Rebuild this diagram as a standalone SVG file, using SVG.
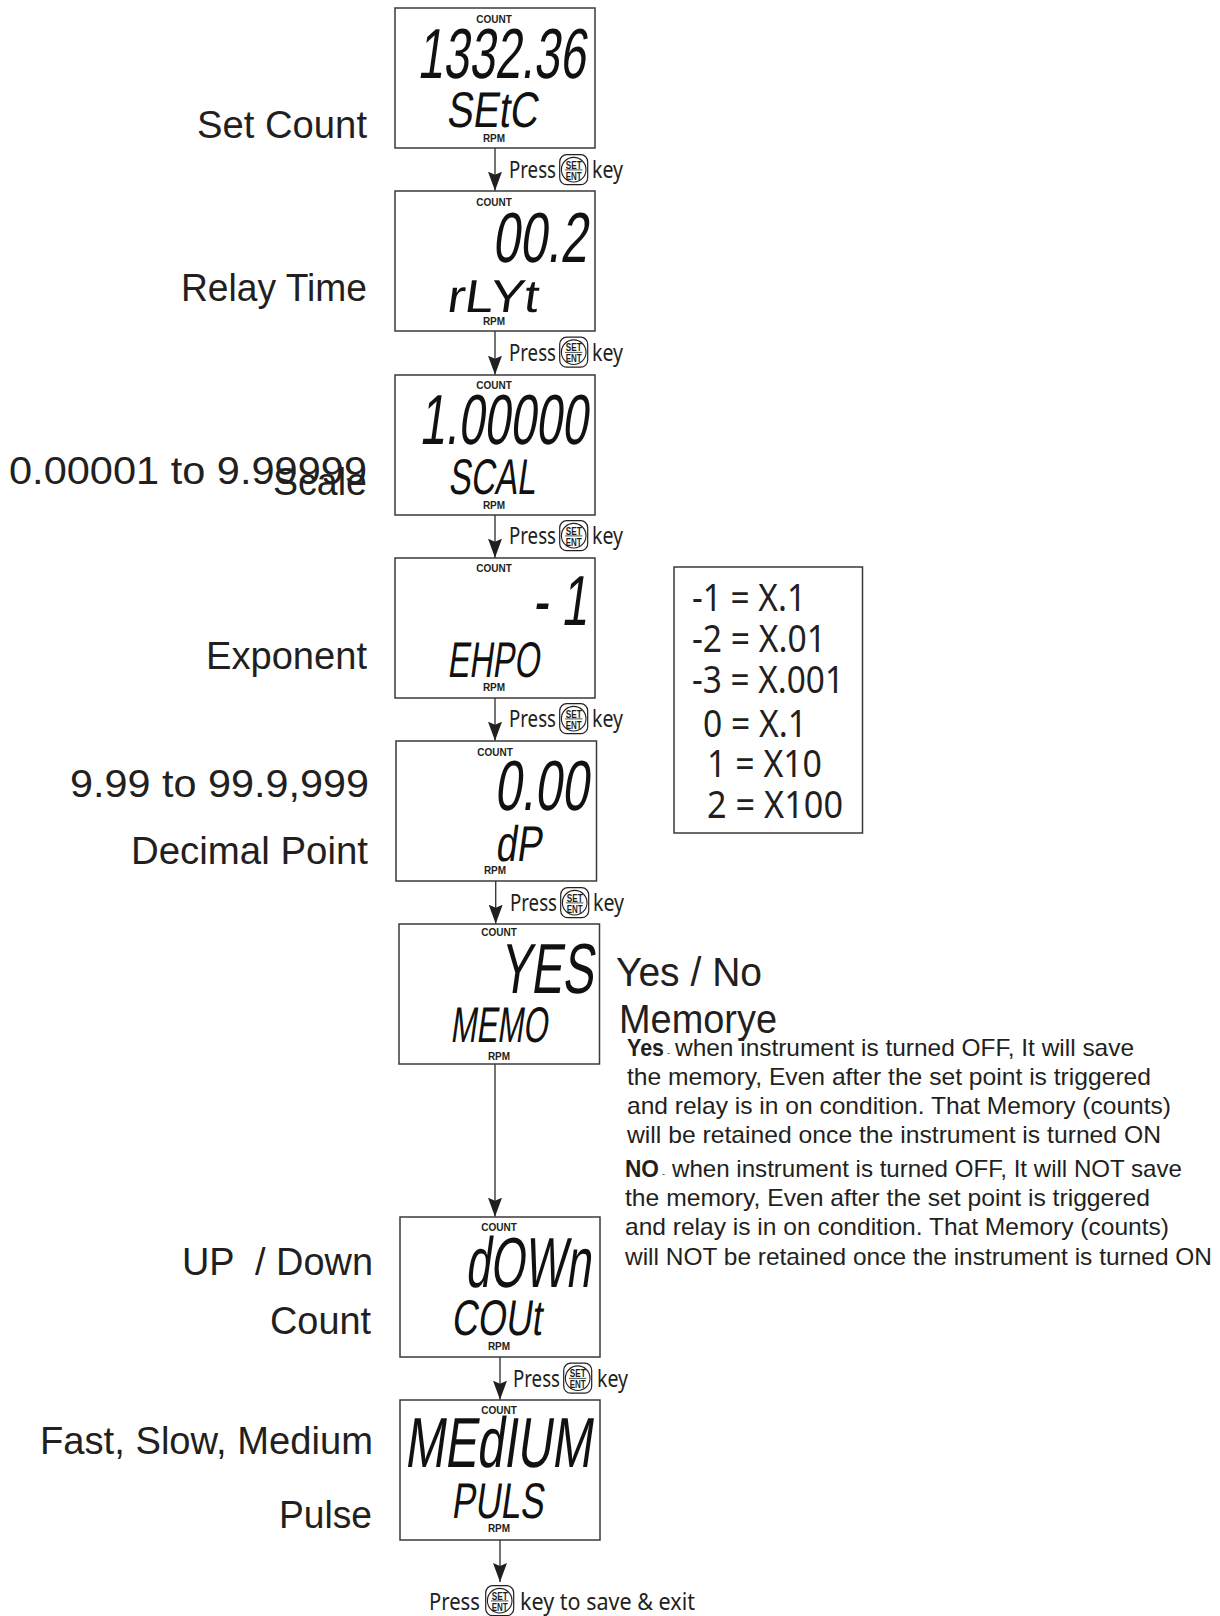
<svg xmlns="http://www.w3.org/2000/svg" xmlns:xlink="http://www.w3.org/1999/xlink" width="1220" height="1616" viewBox="0 0 1220 1616">
<style>
text{fill:#231f20;font-family:"Liberation Sans",Arial,sans-serif}
.box{fill:#fff;stroke:#3a3a3a;stroke-width:1.5}
.cnt{font-size:10px;font-weight:700;text-anchor:middle}
.lcd{font-size:71px;fill:#111}
.sub{font-size:50px;fill:#111}
.lbl{font-size:38px}
.big{font-size:41px}
.press{font-family:"Noto Sans","Open Sans",sans-serif;font-size:24px}
.tbl{font-family:"Noto Sans","Open Sans",sans-serif;font-size:39px}
.p{font-size:24px}
.b{font-weight:700}
.line{stroke:#3a3a3a;stroke-width:1.4;fill:none}
.k{font-family:"Liberation Sans Narrow","Liberation Sans",sans-serif;font-size:11.5px;font-weight:700;text-anchor:middle}
</style>
<defs>
<marker id="ah" markerUnits="userSpaceOnUse" markerWidth="20" markerHeight="15" refX="19" refY="7" orient="auto"><path d="M0,0 L3,7 L0,14 L19,7Z" fill="#231f20"/></marker>
<symbol id="key" width="30" height="32" viewBox="0 0 30 32" overflow="visible">
<rect x="0.7" y="0.7" width="28" height="30" rx="7" fill="#fff" stroke="#231f20" stroke-width="1.2"/>
<circle cx="14.7" cy="15.7" r="12.3" fill="#fff" stroke="#231f20" stroke-width="1.1"/>
<text x="14.7" y="14.6" class="k" textLength="16" lengthAdjust="spacingAndGlyphs">SET</text>
<line x1="6" y1="15.9" x2="23.4" y2="15.9" stroke="#231f20" stroke-width="0.8"/>
<text x="14.7" y="25.6" class="k" textLength="16" lengthAdjust="spacingAndGlyphs">ENT</text>
</symbol>
</defs>
<rect width="1220" height="1616" fill="#fff"/>

<g id="connectors">
<path class="line" marker-end="url(#ah)" d="M495,148V190.7"/>
<path class="line" marker-end="url(#ah)" d="M495,331V374.7"/>
<path class="line" marker-end="url(#ah)" d="M495,514.7V557.7"/>
<path class="line" marker-end="url(#ah)" d="M495,698V740.7"/>
<path class="line" marker-end="url(#ah)" d="M495.7,881V923.7"/>
<path class="line" marker-end="url(#ah)" d="M495,1064V1216.7"/>
<path class="line" marker-end="url(#ah)" d="M500,1357V1399.7"/>
<path class="line" marker-end="url(#ah)" d="M500,1540V1582"/>
</g>

<g id="press-labels">
<g id="press1"><text class="press" x="509" y="178" textLength="47" lengthAdjust="spacingAndGlyphs">Press</text><use xlink:href="#key" href="#key" x="559" y="154"/><text class="press" x="592" y="178" textLength="31" lengthAdjust="spacingAndGlyphs">key</text></g>
<g id="press2"><text class="press" x="509" y="360.5" textLength="47" lengthAdjust="spacingAndGlyphs">Press</text><use xlink:href="#key" href="#key" x="559" y="336.5"/><text class="press" x="592" y="360.5" textLength="31" lengthAdjust="spacingAndGlyphs">key</text></g>
<g id="press3"><text class="press" x="509" y="543.5" textLength="47" lengthAdjust="spacingAndGlyphs">Press</text><use xlink:href="#key" href="#key" x="559" y="520"/><text class="press" x="592" y="543.5" textLength="31" lengthAdjust="spacingAndGlyphs">key</text></g>
<g id="press4"><text class="press" x="509" y="726.5" textLength="47" lengthAdjust="spacingAndGlyphs">Press</text><use xlink:href="#key" href="#key" x="559" y="703"/><text class="press" x="592" y="726.5" textLength="31" lengthAdjust="spacingAndGlyphs">key</text></g>
<g id="press5"><text class="press" x="510" y="910.5" textLength="47" lengthAdjust="spacingAndGlyphs">Press</text><use xlink:href="#key" href="#key" x="560" y="887"/><text class="press" x="593" y="910.5" textLength="31" lengthAdjust="spacingAndGlyphs">key</text></g>
<g id="press7"><text class="press" x="513" y="1386.5" textLength="47" lengthAdjust="spacingAndGlyphs">Press</text><use xlink:href="#key" href="#key" x="563" y="1362.5"/><text class="press" x="597" y="1386.5" textLength="31" lengthAdjust="spacingAndGlyphs">key</text></g>
<g id="press8"><text class="press" x="429" y="1610" textLength="51" lengthAdjust="spacingAndGlyphs">Press</text><use xlink:href="#key" href="#key" x="485" y="1585"/><text class="press" x="520" y="1610" textLength="175" lengthAdjust="spacingAndGlyphs">key to save &amp; exit</text></g>
</g>

<g id="node-setc">
<rect class="box" x="395" y="8" width="200" height="140"/>
<text class="cnt" x="494" y="23">COUNT</text>
<text class="lcd" transform="translate(417,78) skewX(-8)" textLength="168" lengthAdjust="spacingAndGlyphs">1332.36</text>
<text class="sub" transform="translate(446,127) skewX(-8)" textLength="91" lengthAdjust="spacingAndGlyphs">SEtC</text>
<text class="cnt" x="494" y="141.5">RPM</text>
</g>
<g id="node-rlyt">
<rect class="box" x="395" y="191" width="200" height="140"/>
<text class="cnt" x="494" y="206">COUNT</text>
<text class="lcd" transform="translate(492,262) skewX(-8)" textLength="95" lengthAdjust="spacingAndGlyphs">00.2</text>
<text class="sub" transform="translate(446,312) skewX(-8)" style="font-size:46px" textLength="91" lengthAdjust="spacingAndGlyphs">rLYt</text>
<text class="cnt" x="494" y="325">RPM</text>
</g>
<g id="node-scal">
<rect class="box" x="395" y="375" width="200" height="140"/>
<text class="cnt" x="494" y="389">COUNT</text>
<text class="lcd" transform="translate(419,444) skewX(-8)" textLength="168" lengthAdjust="spacingAndGlyphs">1.00000</text>
<text class="sub" transform="translate(448,494) skewX(-8)" textLength="87" lengthAdjust="spacingAndGlyphs">SCAL</text>
<text class="cnt" x="494" y="509">RPM</text>
</g>
<g id="node-ehpo">
<rect class="box" x="395" y="558" width="200" height="140"/>
<text class="cnt" x="494" y="572">COUNT</text>
<text class="lcd" transform="translate(532,625) skewX(-8)" textLength="55" lengthAdjust="spacingAndGlyphs">- 1</text>
<text class="sub" transform="translate(447,677) skewX(-8)" textLength="92" lengthAdjust="spacingAndGlyphs">EHPO</text>
<text class="cnt" x="494" y="691">RPM</text>
</g>
<g id="node-dp">
<rect class="box" x="396" y="741" width="200.5" height="140"/>
<text class="cnt" x="495" y="756">COUNT</text>
<text class="lcd" transform="translate(494,810) skewX(-8)" textLength="94" lengthAdjust="spacingAndGlyphs">0.00</text>
<text class="sub" transform="translate(495,861) skewX(-8)" textLength="46" lengthAdjust="spacingAndGlyphs">dP</text>
<text class="cnt" x="495" y="874">RPM</text>
</g>
<g id="node-memo">
<rect class="box" x="399" y="924" width="200.5" height="140"/>
<text class="cnt" x="499" y="936">COUNT</text>
<text class="lcd" transform="translate(499,993) skewX(-8)" textLength="94" lengthAdjust="spacingAndGlyphs">YES</text>
<text class="sub" transform="translate(450,1042) skewX(-8)" textLength="97" lengthAdjust="spacingAndGlyphs">MEMO</text>
<text class="cnt" x="499" y="1060">RPM</text>
</g>
<g id="node-cout">
<rect class="box" x="400" y="1217" width="200" height="140"/>
<text class="cnt" x="499" y="1231">COUNT</text>
<text class="lcd" transform="translate(465,1287) skewX(-8)" textLength="125" lengthAdjust="spacingAndGlyphs">dOWn</text>
<text class="sub" transform="translate(451,1335) skewX(-8)" textLength="90" lengthAdjust="spacingAndGlyphs">COUt</text>
<text class="cnt" x="499" y="1350">RPM</text>
</g>
<g id="node-puls">
<rect class="box" x="400" y="1400" width="200" height="140"/>
<text class="cnt" x="499" y="1414">COUNT</text>
<text class="lcd" transform="translate(404,1467) skewX(-8)" textLength="187" lengthAdjust="spacingAndGlyphs">MEdIUM</text>
<text class="sub" transform="translate(451,1518) skewX(-8)" textLength="92" lengthAdjust="spacingAndGlyphs">PULS</text>
<text class="cnt" x="499" y="1532">RPM</text>
</g>

<g id="left-labels">
<text class="lbl" x="197" y="138" textLength="170" lengthAdjust="spacingAndGlyphs">Set Count</text>
<text class="lbl" x="181" y="301" textLength="186" lengthAdjust="spacingAndGlyphs">Relay Time</text>
<text class="lbl" x="9" y="484" textLength="358" lengthAdjust="spacingAndGlyphs">0.00001 to 9.99999</text>
<text class="lbl" x="273" y="495" textLength="94" lengthAdjust="spacingAndGlyphs">Scale</text>
<text class="lbl" x="206" y="669" textLength="161" lengthAdjust="spacingAndGlyphs">Exponent</text>
<text class="lbl" x="70" y="797" textLength="299" lengthAdjust="spacingAndGlyphs">9.99 to 99.9,999</text>
<text class="lbl" x="131" y="864" textLength="237" lengthAdjust="spacingAndGlyphs">Decimal Point</text>
<text class="lbl" x="182" y="1275" textLength="191" lengthAdjust="spacingAndGlyphs" xml:space="preserve">UP  / Down</text>
<text class="lbl" x="270" y="1334" textLength="101" lengthAdjust="spacingAndGlyphs">Count</text>
<text class="lbl" x="40" y="1454" textLength="333" lengthAdjust="spacingAndGlyphs">Fast, Slow, Medium</text>
<text class="lbl" x="279" y="1528" textLength="93" lengthAdjust="spacingAndGlyphs">Pulse</text>
</g>

<g id="memory-notes">
<text class="big" x="616" y="986" textLength="146" lengthAdjust="spacingAndGlyphs">Yes / No</text>
<text class="big" x="619" y="1033" textLength="158" lengthAdjust="spacingAndGlyphs">Memorye</text>
<text class="p b" x="627" y="1056" textLength="37" lengthAdjust="spacingAndGlyphs">Yes</text>
<text x="667" y="1056" font-size="9">-</text>
<text class="p" x="675" y="1056" textLength="459" lengthAdjust="spacingAndGlyphs">when instrument is turned OFF, It will save</text>
<text class="p" x="627" y="1085" textLength="524" lengthAdjust="spacingAndGlyphs">the memory, Even after the set point is triggered</text>
<text class="p" x="627" y="1114" textLength="544" lengthAdjust="spacingAndGlyphs">and relay is in on condition. That Memory (counts)</text>
<text class="p" x="627" y="1143" textLength="534" lengthAdjust="spacingAndGlyphs">will be retained once the instrument is turned ON</text>
<text class="p b" x="625" y="1177" textLength="34" lengthAdjust="spacingAndGlyphs">NO</text>
<text x="662" y="1177" font-size="9">-</text>
<text class="p" x="672" y="1177" textLength="510" lengthAdjust="spacingAndGlyphs">when instrument is turned OFF, It will NOT save</text>
<text class="p" x="625" y="1206" textLength="525" lengthAdjust="spacingAndGlyphs">the memory, Even after the set point is triggered</text>
<text class="p" x="625" y="1235" textLength="544" lengthAdjust="spacingAndGlyphs">and relay is in on condition. That Memory (counts)</text>
<text class="p" x="625" y="1265" textLength="587" lengthAdjust="spacingAndGlyphs">will NOT be retained once the instrument is turned ON</text>
</g>

<g id="exponent-table">
<rect class="box" x="674" y="567" width="188.5" height="266"/>
<text class="tbl" x="692" y="611" textLength="114" lengthAdjust="spacingAndGlyphs">-1 = X.1</text>
<text class="tbl" x="692" y="652" textLength="134" lengthAdjust="spacingAndGlyphs">-2 = X.01</text>
<text class="tbl" x="692" y="693" textLength="152" lengthAdjust="spacingAndGlyphs">-3 = X.001</text>
<text class="tbl" x="703" y="737" textLength="104" lengthAdjust="spacingAndGlyphs">0 = X.1</text>
<text class="tbl" x="707" y="777" textLength="115" lengthAdjust="spacingAndGlyphs">1 = X10</text>
<text class="tbl" x="707" y="818" textLength="136" lengthAdjust="spacingAndGlyphs">2 = X100</text>
</g>
</svg>
